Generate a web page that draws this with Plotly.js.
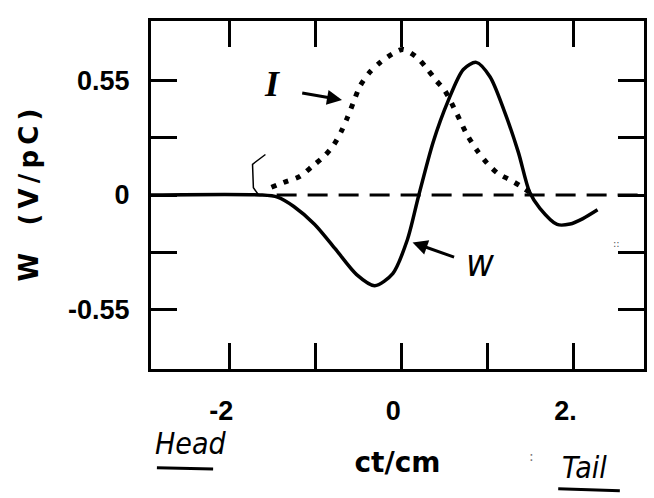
<!DOCTYPE html>
<html><head><meta charset="utf-8">
<script src="https://cdn.plot.ly/plotly-3.0.1.min.js"></script>
<style>html,body{margin:0;padding:0;background:#fff}#chart{width:654px;height:498px}</style>
</head><body><div id="chart"></div>
<script>
// Wake potential W (solid), V/pC
const wX = [-2.91, -1.64, -1.44, -1.25, -1.01, -0.77, -0.52, -0.31, -0.10, 0.07, 0.20, 0.37, 0.54, 0.72, 0.87, 1.03, 1.19, 1.36, 1.49, 1.61, 1.81, 1.96, 2.11, 2.28];
const wY = [0, 0, -0.01, -0.055, -0.14, -0.257, -0.381, -0.434, -0.376, -0.214, -0.005, 0.254, 0.447, 0.601, 0.635, 0.566, 0.409, 0.204, 0.014, -0.064, -0.141, -0.139, -0.113, -0.071];
// Bunch current I (dotted)
const iX = [-1.51, -1.37, -1.18, -1.03, -0.89, -0.79, -0.70, -0.63, -0.56, -0.48, -0.37, -0.24, -0.09, 0.02, 0.18, 0.30, 0.40, 0.50, 0.64, 0.76, 0.88, 1.00, 1.12, 1.25, 1.38, 1.50];
const iY = [0.037, 0.06, 0.089, 0.139, 0.189, 0.238, 0.303, 0.368, 0.441, 0.522, 0.587, 0.637, 0.679, 0.697, 0.659, 0.604, 0.55, 0.503, 0.393, 0.291, 0.213, 0.151, 0.104, 0.075, 0.044, 0.01];
// Zero reference (dashed)
const baseX = [-1.45, 2.82];
const baseY = [0, 0];

const xTickVals = [-2, -1, 0, 1, 2];
const xTickText = ['-2', '', '0', '', '2.'];
const yTickVals = [-0.55, -0.275, 0, 0.275, 0.55];
const yTickText = ['-0.55', '', '0', '', '0.55'];

const xRange = [-2.91, 2.82];
const yRange = [-0.833, 0.833];

const traces = [
  {x: baseX, y: baseY, mode: 'lines', line: {color: '#000', width: 3, dash: '20px,11px'}, hoverinfo: 'skip', name: 'zero'},
  {x: iX, y: iY, mode: 'lines', line: {color: '#000', width: 5, dash: '5px,8px', shape: 'spline', smoothing: 0.8}, name: 'I'},
  {x: wX, y: wY, mode: 'lines', line: {color: '#000', width: 3.5, shape: 'spline', smoothing: 0.8}, name: 'W'}
];

const tickFont = {family: 'Liberation Sans, Arial, sans-serif', size: 27, color: '#000', weight: 'bold'};
const hand = {family: 'DejaVu Sans Condensed, DejaVu Sans, sans-serif', color: '#000', style: 'italic'};

const layout = {
  width: 654, height: 498,
  margin: {l: 151, r: 10, t: 21, b: 129, pad: 0},
  paper_bgcolor: '#fff', plot_bgcolor: '#fff',
  showlegend: false,
  xaxis: {
    range: xRange, tickvals: xTickVals, ticktext: xTickText,
    ticks: 'inside', ticklen: 26, tickwidth: 3, tickcolor: '#000',
    showline: true, linewidth: 3, linecolor: '#000', mirror: 'ticks',
    showgrid: false, zeroline: false,
    tickfont: tickFont, ticklabelstandoff: 16, ticklabelshift: -8,
    title: {text: 'ct/cm', font: {family: 'DejaVu Sans, sans-serif', size: 28, color: '#000', weight: 'bold'}, standoff: 27}
  },
  yaxis: {
    range: yRange, tickvals: yTickVals, ticktext: yTickText,
    ticks: 'inside', ticklen: 26, tickwidth: 3, tickcolor: '#000',
    showline: true, linewidth: 3, linecolor: '#000', mirror: 'ticks',
    showgrid: false, zeroline: false,
    tickfont: tickFont, ticklabelstandoff: 13,
    title: {text: 'W\u00A0\u00A0\u00A0(\u2009V\u2009/\u2009p\u2009C\u2009)', font: {family: 'DejaVu Sans, sans-serif', size: 26, color: '#000', weight: 'bold'}, standoff: 22}
  },
  annotations: [
    {x: -0.69, y: 0.455, ax: -1.17, ay: 0.49, axref: 'x', ayref: 'y', xref: 'x', yref: 'y', text: '', showarrow: true, arrowhead: 2, arrowsize: 1, arrowwidth: 3, arrowcolor: '#000'},
    {x: -1.5, y: 0.53, xref: 'x', yref: 'y', text: 'I', showarrow: false, font: {family: 'Liberation Serif, serif', size: 36, color: '#000', style: 'italic', weight: 'bold'}},
    {x: 0.13, y: -0.227, ax: 0.63, ay: -0.30, axref: 'x', ayref: 'y', xref: 'x', yref: 'y', text: '', showarrow: true, arrowhead: 2, arrowsize: 1, arrowwidth: 3, arrowcolor: '#000'},
    {x: 0.91, y: -0.326, xref: 'x', yref: 'y', text: 'w', showarrow: false, font: Object.assign({size: 38}, hand)},
    {x: 0.081, y: -0.215, xref: 'paper', yref: 'paper', xanchor: 'center', yanchor: 'middle', text: 'Head', showarrow: false, font: Object.assign({size: 30}, hand)},
    {x: 0.880, y: -0.284, xref: 'paper', yref: 'paper', xanchor: 'center', yanchor: 'middle', text: 'Tail', showarrow: false, font: Object.assign({size: 30}, hand)},
    {x: 0.771, y: -0.250, xref: 'paper', yref: 'paper', xanchor: 'center', yanchor: 'middle', text: ':', showarrow: false, font: {family: 'DejaVu Sans', size: 14, color: '#777'}},
    {x: 0.945, y: 0.36, xref: 'paper', yref: 'paper', xanchor: 'center', yanchor: 'middle', text: '::', showarrow: false, font: {family: 'DejaVu Sans', size: 10, color: '#555'}}
  ],
  shapes: [
    {type: 'line', xref: 'paper', yref: 'paper', x0: 0.012, x1: 0.126, y0: -0.284, y1: -0.287, line: {color: '#000', width: 3}},
    {type: 'line', xref: 'paper', yref: 'paper', x0: 0.826, x1: 0.951, y0: -0.344, y1: -0.350, line: {color: '#000', width: 3}},
    {type: 'path', xref: 'x', yref: 'y', path: 'M -1.58,0.194 L -1.73,0.147 L -1.72,0.035 L -1.66,0.0', line: {color: '#000', width: 1.5}}
  ]
};

Plotly.newPlot('chart', traces, layout, {displayModeBar: false, staticPlot: true});
</script>
</body></html>
